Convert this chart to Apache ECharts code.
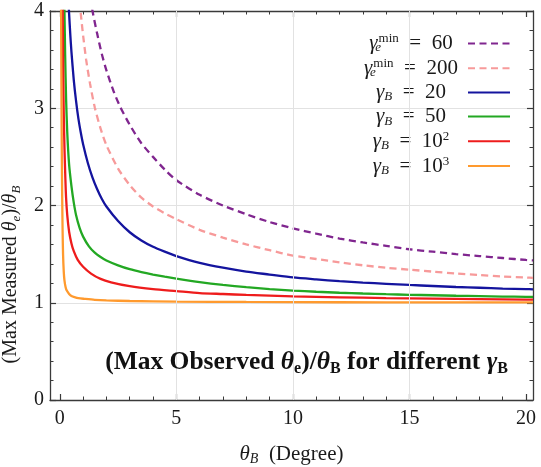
<!DOCTYPE html>
<html>
<head>
<meta charset="utf-8">
<script src="https://cdn.jsdelivr.net/npm/echarts@6/dist/echarts.min.js"></script>
<style>html,body{margin:0;padding:0;background:#fff}#c{width:541px;height:467px}</style>
</head>
<body>
<div id="c"></div>
<script>
// ---- data ----
const xTickLabels = [0, 5, 10, 15, 20];
const xMinorTicks = [0,1,2,3,4,5,6,7,8,9,10,11,12,13,14,15,16,17,18,19,20];
const xGrid = [5, 10, 15];

const seriesNames = ['ge60', 'ge200', 'gB20', 'gB50', 'gB100', 'gB1000'];

// gamma_e^min = 60 (purple dashed)
const xPurple = [1.30, 1.42, 1.60, 1.80, 2.00, 2.30, 2.60, 3.00, 3.50, 4.00, 4.50, 5.00, 6.00, 7.00, 8.00, 9.00, 10.0, 11.0, 12.0, 13.0, 14.0, 15.0, 16.0, 17.0, 18.0, 19.0, 20.0, 20.3];
const yPurple = [4.14, 3.98, 3.77, 3.56, 3.39, 3.18, 3.01, 2.83, 2.64, 2.50, 2.37, 2.26, 2.11, 2.00, 1.91, 1.83, 1.765, 1.71, 1.66, 1.62, 1.585, 1.55, 1.525, 1.50, 1.48, 1.46, 1.44, 1.435];

// gamma_e^min = 200 (pink dashed)
const xPink = [0.85, 0.91, 1.00, 1.13, 1.30, 1.50, 1.75, 2.00, 2.50, 3.00, 3.50, 4.00, 4.50, 5.00, 6.00, 7.00, 8.00, 9.00, 10.0, 11.0, 12.0, 13.0, 14.0, 15.0, 16.0, 17.0, 18.0, 19.0, 20.0, 20.3];
const yPink = [4.10, 3.95, 3.75, 3.50, 3.25, 3.01, 2.79, 2.62, 2.38, 2.21, 2.08, 1.99, 1.92, 1.86, 1.75, 1.67, 1.60, 1.54, 1.485, 1.45, 1.415, 1.385, 1.36, 1.34, 1.32, 1.30, 1.285, 1.27, 1.26, 1.255];

// gamma_B = 20 (blue)
const xBlue = [0.35, 0.37, 0.40, 0.45, 0.50, 0.60, 0.70, 0.80, 0.90, 1.00, 1.20, 1.40, 1.60, 1.80, 2.00, 2.50, 3.00, 3.50, 4.00, 4.50, 5.00, 6.00, 7.00, 8.00, 9.00, 10.0, 11.0, 12.0, 13.0, 14.0, 15.0, 16.0, 17.0, 18.0, 19.0, 20.0, 20.3];
const yBlue = [4.23, 4.11, 3.97, 3.76, 3.58, 3.29, 3.07, 2.89, 2.75, 2.63, 2.44, 2.29, 2.17, 2.07, 1.99, 1.84, 1.725, 1.64, 1.575, 1.525, 1.48, 1.41, 1.36, 1.32, 1.29, 1.26, 1.24, 1.222, 1.207, 1.195, 1.183, 1.172, 1.162, 1.154, 1.146, 1.14, 1.138];

// gamma_B = 50 (green)
const xGreen = [0.18, 0.20, 0.23, 0.27, 0.32, 0.40, 0.50, 0.60, 0.70, 0.85, 1.00, 1.25, 1.50, 1.75, 2.00, 2.50, 3.00, 3.50, 4.00, 4.50, 5.00, 6.00, 7.00, 8.00, 9.00, 10.0, 11.0, 12.0, 13.0, 14.0, 15.0, 16.0, 17.0, 18.0, 19.0, 20.0, 20.3];
const yGreen = [4.25, 4.00, 3.55, 3.10, 2.75, 2.42, 2.20, 2.03, 1.90, 1.77, 1.68, 1.58, 1.515, 1.47, 1.435, 1.385, 1.345, 1.315, 1.29, 1.268, 1.248, 1.212, 1.183, 1.16, 1.14, 1.125, 1.113, 1.103, 1.095, 1.088, 1.082, 1.077, 1.072, 1.068, 1.064, 1.06, 1.059];

// gamma_B = 10^2 (red)
const xRed = [0.11, 0.12, 0.13, 0.15, 0.17, 0.20, 0.24, 0.27, 0.32, 0.40, 0.50, 0.60, 0.77, 1.00, 1.34, 1.75, 2.20, 3.00, 4.00, 5.00, 6.00, 7.00, 8.00, 10.0, 12.0, 14.0, 16.0, 18.0, 20.0, 20.3];
const yRed = [4.30, 4.10, 3.85, 3.30, 2.95, 2.60, 2.27, 2.08, 1.90, 1.73, 1.61, 1.53, 1.44, 1.37, 1.30, 1.245, 1.21, 1.17, 1.14, 1.12, 1.10, 1.09, 1.08, 1.066, 1.056, 1.048, 1.042, 1.037, 1.033, 1.032];

// gamma_B = 10^3 (orange)
const xOrange = [0.05, 0.06, 0.07, 0.08, 0.09, 0.10, 0.12, 0.14, 0.17, 0.20, 0.25, 0.30, 0.40, 0.50, 0.63, 0.80, 1.06, 1.50, 2.00, 3.00, 5.00, 8.00, 12.0, 16.0, 20.0, 20.3];
const yOrange = [4.30, 3.80, 3.25, 2.80, 2.45, 2.15, 1.75, 1.50, 1.32, 1.23, 1.16, 1.125, 1.09, 1.07, 1.058, 1.047, 1.04, 1.03, 1.024, 1.018, 1.012, 1.008, 1.005, 1.004, 1.003, 1.003];

// ---- helpers ----
function zip(xs, ys) { return xs.map((x, i) => [x, ys[i]]); }

const serif = '"Liberation Serif", "DejaVu Serif", serif';
const ink = '#1a1a1a';

const legendRich = {
  g: { fontFamily: serif, fontSize: 21, fontStyle: 'italic', lineHeight: 22, color: ink, align: 'center' },
  t: { fontFamily: serif, fontSize: 21, lineHeight: 22, color: ink, align: 'center' },
  sub: { fontFamily: serif, fontSize: 13, fontStyle: 'italic', lineHeight: 8, verticalAlign: 'bottom', color: ink, align: 'center' },
  subz: { fontFamily: serif, fontSize: 13, fontStyle: 'italic', lineHeight: 8, width: 1, verticalAlign: 'bottom', color: ink, align: 'center' },
  sup: { fontFamily: serif, fontSize: 13, lineHeight: 8, verticalAlign: 'top', color: ink, align: 'center' }
};
const legendLabels = {
  ge60: '{g|γ}{subz|e}{sup|min}{t|  =  60}',
  ge200: '{g|γ}{subz|e}{sup|min}{t|  =  200}',
  gB20: '{g|γ}{sub|B}{t|  =  20}',
  gB50: '{g|γ}{sub|B}{t|  =  50}',
  gB100: '{g|γ}{sub|B}{t|  =  10}{sup|2}',
  gB1000: '{g|γ}{sub|B}{t|  =  10}{sup|3}'
};

const colors = {
  ge60: '#80268F',
  ge200: '#F79A9A',
  gB20: '#14149E',
  gB50: '#23A823',
  gB100: '#EE1C1C',
  gB1000: '#FF9A2E'
};

function lineSeries(name, xs, ys, dashed) {
  return {
    name: name,
    type: 'line',
    xAxisIndex: 0,
    yAxisIndex: 0,
    data: zip(xs, ys),
    showSymbol: false,
    symbol: 'none',
    smooth: 0.25,
    clip: true,
    z: 3,
    lineStyle: { color: colors[name], width: 2.3, type: dashed ? [7, 4.5] : 'solid' },
    itemStyle: { color: colors[name] },
    emphasis: { disabled: true }
  };
}

const frameColor = '#3a3a3a';
const baseX = { type: 'value', min: -0.42, max: 20.3, splitLine: { show: false } };
const nameRich = {
  i: { fontFamily: serif, fontSize: 20, fontStyle: 'italic', color: ink, lineHeight: 24 },
  t: { fontFamily: serif, fontSize: 20, color: ink, lineHeight: 24 },
  s: { fontFamily: serif, fontSize: 13, fontStyle: 'italic', color: ink, lineHeight: 8, verticalAlign: 'bottom' }
};
const xNameRich = {
  i: { fontFamily: serif, fontSize: 21, fontStyle: 'italic', color: ink, lineHeight: 24 },
  t: { fontFamily: serif, fontSize: 21, color: ink, lineHeight: 24 },
  s: { fontFamily: serif, fontSize: 14, fontStyle: 'italic', color: ink, lineHeight: 8, verticalAlign: 'bottom' }
};

const chart = echarts.init(document.getElementById('c'), null, { renderer: 'canvas' });
chart.setOption({
  animation: false,
  backgroundColor: '#ffffff',
  grid: { left: 50, right: 8, top: 11, bottom: 67, containLabel: false, outerBoundsMode: 'none' },
  title: {
    text: '{b|(Max Observed }{bi|θ}{bs|e}{b|)/}{bi|θ}{bs|B}{b| for different }{bg|γ}{bs|B}',
    right: 28,
    top: 342,
    textStyle: {
      rich: {
        b: { fontFamily: serif, fontSize: 25.5, fontWeight: 'bold', color: '#111', lineHeight: 30 },
        bi: { fontFamily: serif, fontSize: 25.5, fontWeight: 'bold', fontStyle: 'italic', color: '#111', lineHeight: 30 },
        bg: { fontFamily: serif, fontSize: 25.5, fontWeight: 'bold', fontStyle: 'italic', color: '#111', lineHeight: 30 },
        bs: { fontFamily: serif, fontSize: 16, fontWeight: 'bold', color: '#111', lineHeight: 8, verticalAlign: 'bottom' }
      }
    }
  },
  legend: {
    orient: 'vertical',
    right: 30,
    top: 32.5,
    padding: 0,
    align: 'right',
    itemWidth: 42,
    itemHeight: 4,
    itemGap: 2.7,
    selectedMode: false,
    data: seriesNames,
    itemStyle: { opacity: 0 },
    formatter: function (n) { return legendLabels[n]; },
    textStyle: { rich: legendRich, width: 104, padding: 0 }
  },
  xAxis: [
    Object.assign({}, baseX, {
      position: 'bottom',
      name: '{i|θ}{s|B}{t|  (Degree)}',
      nameLocation: 'middle',
      nameGap: 42,
      nameTextStyle: { rich: xNameRich },
      axisLine: { show: true, onZero: false, lineStyle: { color: frameColor, width: 1.3 } },
      axisTick: { show: true, inside: true, length: 6, customValues: xTickLabels, lineStyle: { color: frameColor, width: 1.2 } },
      axisLabel: { show: true, customValues: xTickLabels, margin: 9, fontFamily: serif, fontSize: 20, color: ink }
    }),
    Object.assign({}, baseX, {
      position: 'bottom',
      axisLine: { show: false, onZero: false },
      axisTick: { show: true, inside: true, length: 3.5, customValues: xMinorTicks, lineStyle: { color: frameColor, width: 1 } },
      axisLabel: { show: false }
    }),
    Object.assign({}, baseX, {
      position: 'top',
      axisLine: { show: true, onZero: false, lineStyle: { color: frameColor, width: 1.3 } },
      axisTick: { show: true, inside: true, length: 6, customValues: xTickLabels, lineStyle: { color: frameColor, width: 1.2 } },
      axisLabel: { show: false }
    }),
    Object.assign({}, baseX, {
      position: 'top',
      axisLine: { show: false, onZero: false },
      axisTick: { show: true, inside: true, length: 3.5, customValues: xMinorTicks, lineStyle: { color: frameColor, width: 1 } },
      axisLabel: { show: false }
    })
  ],
  yAxis: [
    {
      type: 'value', min: 0, max: 4, interval: 1, position: 'left',
      name: '{t|(Max Measured }{i|θ}{s|e}{t|)/}{i|θ}{s|B}',
      nameLocation: 'middle',
      nameGap: 18,
      nameRotate: 90,
      nameTextStyle: { rich: nameRich, padding: [0, 138, 0, 0] },
      axisLine: { show: true, onZero: false, lineStyle: { color: frameColor, width: 1.3 } },
      axisTick: { show: true, inside: true, length: 6, lineStyle: { color: frameColor, width: 1.2 } },
      minorTick: { show: true, splitNumber: 5, length: 3.5, lineStyle: { color: frameColor, width: 1 } },
      axisLabel: { show: true, margin: 6, fontFamily: serif, fontSize: 20, color: ink },
      splitLine: { show: true, lineStyle: { color: '#e2e2e2', width: 1 } }
    },
    {
      type: 'value', min: 0, max: 4, interval: 1, position: 'right',
      axisLine: { show: true, onZero: false, lineStyle: { color: frameColor, width: 1.3 } },
      axisTick: { show: true, inside: true, length: 6, lineStyle: { color: frameColor, width: 1.2 } },
      minorTick: { show: true, splitNumber: 5, length: 3.5, lineStyle: { color: frameColor, width: 1 } },
      axisLabel: { show: false },
      splitLine: { show: false }
    }
  ],
  series: [
    {
      type: 'line',
      xAxisIndex: 0,
      yAxisIndex: 0,
      data: [],
      silent: true,
      z: 1,
      markLine: {
        silent: true,
        symbol: ['none', 'none'],
        label: { show: false },
        lineStyle: { color: '#e2e2e2', width: 1, type: 'solid' },
        emphasis: { disabled: true },
        data: xGrid.map(v => ({ xAxis: v }))
      }
    },
    lineSeries('ge60', xPurple, yPurple, true),
    lineSeries('ge200', xPink, yPink, true),
    lineSeries('gB20', xBlue, yBlue, false),
    lineSeries('gB50', xGreen, yGreen, false),
    lineSeries('gB100', xRed, yRed, false),
    lineSeries('gB1000', xOrange, yOrange, false)
  ]
});
</script>
</body>
</html>
